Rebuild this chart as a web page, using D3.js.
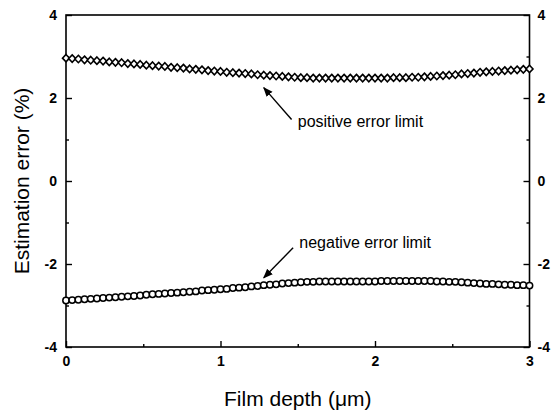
<!DOCTYPE html>
<html lang="en">
<head>
<meta charset="UTF-8">
<title>Estimation error vs film depth</title>
<script src="https://cdn.jsdelivr.net/npm/d3@7"></script>
<style>
  body { margin: 0; background: #fff; }
  svg text { font-family: "Liberation Sans", Arial, sans-serif; }
</style>
</head>
<body>
<div id="box"></div>
<script>
// film depth (um), sampled every 0.04
var depths = [0.00, 0.04, 0.08, 0.12, 0.16, 0.20, 0.24, 0.28, 0.32, 0.36,
  0.40, 0.44, 0.48, 0.52, 0.56, 0.60, 0.64, 0.68, 0.72, 0.76,
  0.80, 0.84, 0.88, 0.92, 0.96, 1.00, 1.04, 1.08, 1.12, 1.16,
  1.20, 1.24, 1.28, 1.32, 1.36, 1.40, 1.44, 1.48, 1.52, 1.56,
  1.60, 1.64, 1.68, 1.72, 1.76, 1.80, 1.84, 1.88, 1.92, 1.96,
  2.00, 2.04, 2.08, 2.12, 2.16, 2.20, 2.24, 2.28, 2.32, 2.36,
  2.40, 2.44, 2.48, 2.52, 2.56, 2.60, 2.64, 2.68, 2.72, 2.76,
  2.80, 2.84, 2.88, 2.92, 2.96, 3.00];

// positive error limit (%)
var posLimit = [2.96, 2.95, 2.94, 2.92, 2.91, 2.90, 2.89, 2.87, 2.86, 2.85,
  2.83, 2.82, 2.81, 2.79, 2.78, 2.77, 2.76, 2.74, 2.73, 2.72,
  2.70, 2.69, 2.68, 2.66, 2.65, 2.64, 2.62, 2.61, 2.60, 2.59,
  2.58, 2.56, 2.55, 2.54, 2.53, 2.52, 2.51, 2.50, 2.49, 2.49,
  2.48, 2.48, 2.48, 2.48, 2.48, 2.48, 2.48, 2.48, 2.48, 2.48,
  2.48, 2.48, 2.48, 2.49, 2.49, 2.49, 2.50, 2.50, 2.51, 2.52,
  2.53, 2.54, 2.55, 2.56, 2.58, 2.59, 2.60, 2.62, 2.63, 2.64,
  2.65, 2.66, 2.67, 2.68, 2.69, 2.70];

// negative error limit (%)
var negLimit = [-2.88, -2.87, -2.86, -2.85, -2.84, -2.83, -2.82, -2.81, -2.80, -2.79,
  -2.78, -2.77, -2.76, -2.74, -2.73, -2.72, -2.71, -2.70, -2.69, -2.68,
  -2.67, -2.66, -2.64, -2.63, -2.62, -2.61, -2.60, -2.58, -2.57, -2.56,
  -2.54, -2.53, -2.51, -2.50, -2.49, -2.47, -2.46, -2.45, -2.44, -2.43,
  -2.43, -2.42, -2.42, -2.42, -2.42, -2.42, -2.42, -2.42, -2.42, -2.42,
  -2.42, -2.41, -2.41, -2.41, -2.41, -2.41, -2.41, -2.41, -2.41, -2.41,
  -2.42, -2.42, -2.43, -2.43, -2.44, -2.45, -2.46, -2.47, -2.48, -2.48,
  -2.49, -2.50, -2.50, -2.51, -2.51, -2.52];

var xTicks = [0, 1, 2, 3];
var xMinor = [0.5, 1.5, 2.5];
var yTicks = [-4, -2, 0, 2, 4];
var yMinor = [-3, -1, 1, 3];

var width = 552, height = 417;
var mLeft = 66, mRight = 529.5, mTop = 15, mBottom = 347;

var x = d3.scaleLinear().domain([0, 3]).range([mLeft, mRight]);
var y = d3.scaleLinear().domain([-4, 4]).range([mBottom, mTop]);

var svg = d3.select("#box").append("svg")
  .attr("width", width)
  .attr("height", height);

// frame
svg.append("rect")
  .attr("x", mLeft).attr("y", mTop)
  .attr("width", mRight - mLeft).attr("height", mBottom - mTop)
  .attr("fill", "none").attr("stroke", "#000").attr("stroke-width", 1.6);

// axes, ticks pointing inward
function styleAxis(g) {
  g.select(".domain").remove();
  g.selectAll("line").attr("stroke", "#000").attr("stroke-width", 1.4);
  g.selectAll("text")
    .style("font-size", "14px").style("font-weight", "bold").attr("fill", "#000")
    .text(function() { return d3.select(this).text().replace("\u2212", "-"); });
}

svg.append("g").attr("transform", "translate(0," + mBottom + ")")
  .call(d3.axisBottom(x).tickValues(xTicks).tickFormat(d3.format("d"))
    .tickSizeInner(-6).tickPadding(9))
  .call(styleAxis);
svg.append("g").attr("transform", "translate(0," + mBottom + ")")
  .call(d3.axisBottom(x).tickValues(xMinor).tickFormat("").tickSizeInner(-3))
  .call(styleAxis);

svg.append("g").attr("transform", "translate(" + mLeft + ",0)")
  .call(d3.axisLeft(y).tickValues(yTicks).tickFormat(d3.format("d"))
    .tickSizeInner(-6).tickPadding(9))
  .call(styleAxis);
svg.append("g").attr("transform", "translate(" + mLeft + ",0)")
  .call(d3.axisLeft(y).tickValues(yMinor).tickFormat("").tickSizeInner(-3))
  .call(styleAxis);

svg.append("g").attr("transform", "translate(" + mRight + ",0)")
  .call(d3.axisRight(y).tickValues(yTicks).tickFormat(d3.format("d"))
    .tickSizeInner(-6).tickPadding(8))
  .call(styleAxis);
svg.append("g").attr("transform", "translate(" + mRight + ",0)")
  .call(d3.axisRight(y).tickValues(yMinor).tickFormat("").tickSizeInner(-3))
  .call(styleAxis);

// series
var posData = depths.map(function(d, i) { return [d, posLimit[i]]; });
var negData = depths.map(function(d, i) { return [d, negLimit[i]]; });

svg.append("g").selectAll("path")
  .data(posData)
  .enter().append("path")
  .attr("transform", function(d) { return "translate(" + x(d[0]) + "," + y(d[1]) + ")"; })
  .attr("d", "M0,-3.7L3.5,0L0,3.7L-3.5,0Z")
  .attr("fill", "#fff").attr("stroke", "#000").attr("stroke-width", 1.6);

svg.append("g").selectAll("circle")
  .data(negData)
  .enter().append("circle")
  .attr("cx", function(d) { return x(d[0]); })
  .attr("cy", function(d) { return y(d[1]); })
  .attr("r", 3.2)
  .attr("fill", "#fff").attr("stroke", "#000").attr("stroke-width", 1.5);

// annotations
svg.append("defs").append("marker")
  .attr("id", "head").attr("viewBox", "0 0 10 10")
  .attr("refX", 9).attr("refY", 5)
  .attr("markerWidth", 7).attr("markerHeight", 7)
  .attr("orient", "auto")
  .append("path").attr("d", "M0,1L10,5L0,9Z").attr("fill", "#000");

svg.append("line")
  .attr("x1", x(1.46)).attr("y1", y(1.48))
  .attr("x2", x(1.28)).attr("y2", y(2.25))
  .attr("stroke", "#000").attr("stroke-width", 1.4)
  .attr("marker-end", "url(#head)");
svg.append("text")
  .attr("x", x(1.50)).attr("y", y(1.30))
  .attr("font-size", 16).text("positive error limit");

svg.append("line")
  .attr("x1", x(1.47)).attr("y1", y(-1.61))
  .attr("x2", x(1.28)).attr("y2", y(-2.33))
  .attr("stroke", "#000").attr("stroke-width", 1.4)
  .attr("marker-end", "url(#head)");
svg.append("text")
  .attr("x", x(1.51)).attr("y", y(-1.62))
  .attr("font-size", 16).text("negative error limit");

// axis titles
svg.append("text")
  .attr("x", (mLeft + mRight) / 2).attr("y", 406)
  .attr("text-anchor", "middle").attr("font-size", 21)
  .text("Film depth (\u03bcm)");

svg.append("text")
  .attr("transform", "translate(29," + (mTop + mBottom) / 2 + ") rotate(-90)")
  .attr("text-anchor", "middle").attr("font-size", 21)
  .text("Estimation error (%)");
</script>
</body>
</html>
